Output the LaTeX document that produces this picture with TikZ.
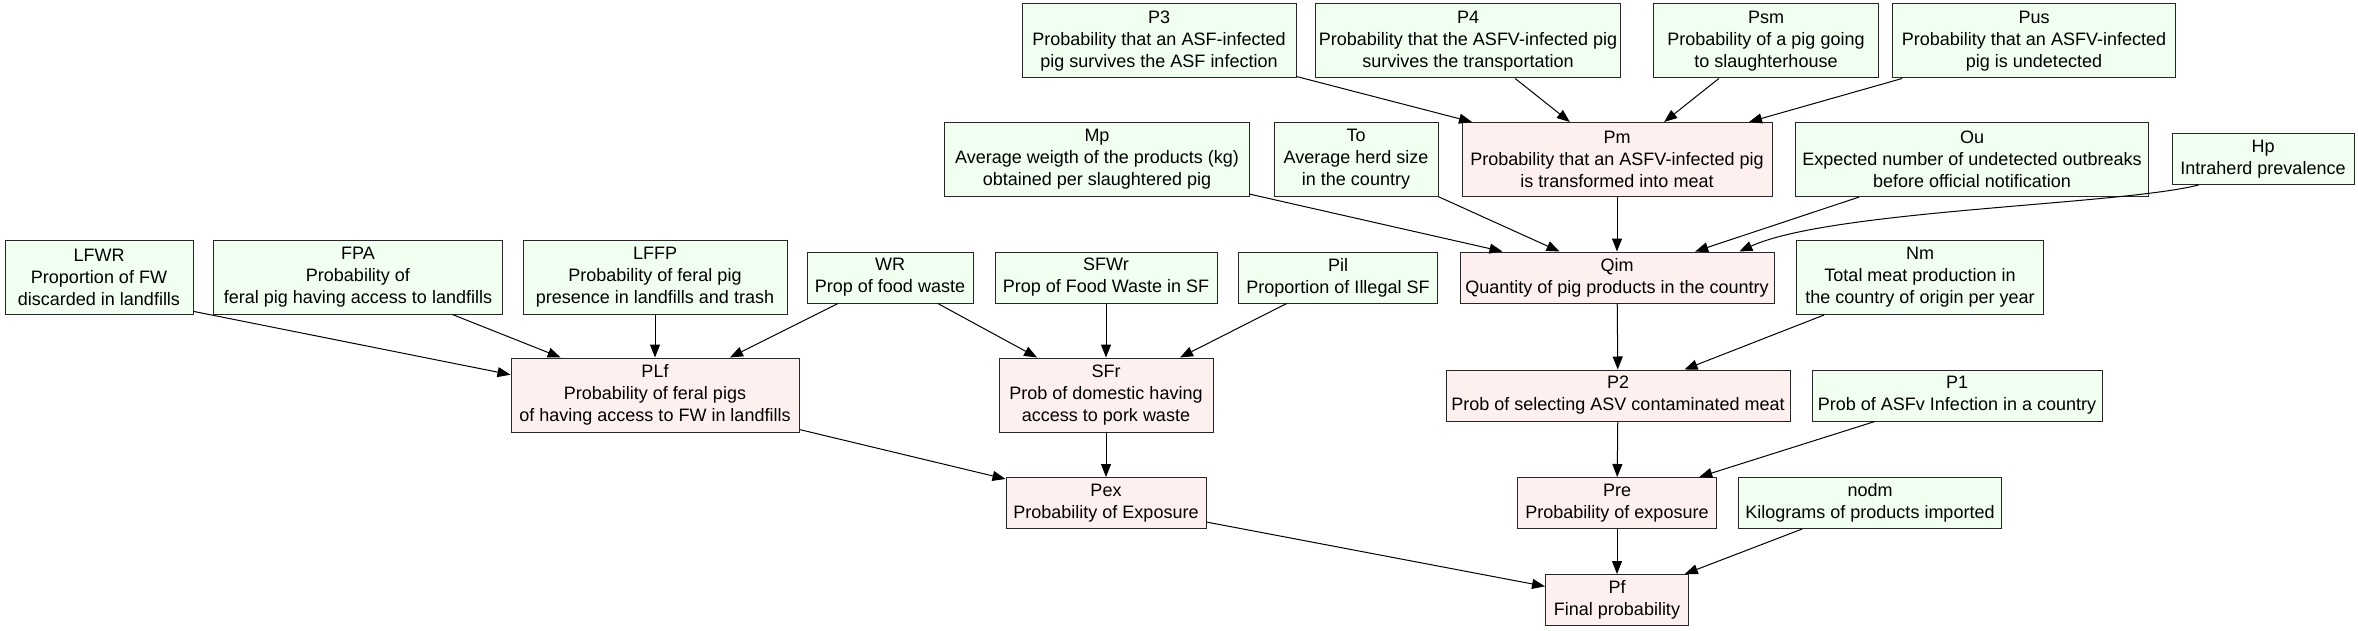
\documentclass[tikz,border=0pt]{standalone}
\usepackage{fontspec}
\setmainfont{Liberation Sans}
\usetikzlibrary{arrows.meta}
\definecolor{givenfill}{HTML}{F0FFF0}
\definecolor{derivfill}{HTML}{FFF0F0}
\begin{document}
\begin{tikzpicture}[x=0.5pt, y=-0.5pt,
  box/.style={draw=black!85, rectangle, align=center, inner xsep=1pt, inner ysep=1pt,
    line width=0.5pt, font=\fontsize{9}{11}\selectfont},
  given/.style={box, fill=givenfill},
  deriv/.style={box, fill=derivfill},
  twoline/.style={minimum height=25.5pt},
  threeline/.style={minimum height=37pt},
  link/.style={-{Triangle[length=6.5pt, width=5pt]}, line width=0.5pt}]
\useasboundingbox (0,0) rectangle (2358,631);
%
\node[given, threeline, minimum width=137pt] (P3) at (1159,41) {P3\\Probability that an ASF-infected\\pig survives the ASF infection};
\node[given, threeline, minimum width=152.5pt] (P4) at (1468,41) {P4\\Probability that the ASFV-infected pig\\survives the transportation};
\node[given, threeline, minimum width=112.5pt] (Psm) at (1766,41) {Psm\\Probability of a pig going\\to slaughterhouse};
\node[given, threeline, minimum width=141.5pt] (Pus) at (2034,41) {Pus\\Probability that an ASFV-infected\\pig is undetected}; % rang 1
%
\node[given, threeline, minimum width=152.5pt] (Mp) at (1097,159.5) {Mp\\Average weigth of the products (kg)\\obtained per slaughtered pig};
\node[given, threeline, minimum width=82pt] (To) at (1356,159.5) {To\\Average herd size\\in the country};
\node[deriv, threeline, minimum width=155pt] (Pm) at (1617,159.5) {Pm\\Probability that an ASFV-infected pig\\is transformed into meat};
\node[given, threeline, minimum width=176.5pt] (Ou) at (1972,159.5) {Ou\\Expected number of undetected outbreaks\\before official notification};
\node[given, twoline, minimum width=91pt] (Hp) at (2263,159) {Hp\\Intraherd prevalence}; % rang 2
%
\node[given, threeline, minimum width=94pt] (LFWR) at (99,277) {LFWR\\Proportion of FW\\discarded in landfills};
\node[given, threeline, minimum width=144.5pt] (FPA) at (358,277) {FPA\\Probability of\\feral pig having access to landfills};
\node[given, threeline, minimum width=132pt] (LFFP) at (655,277) {LFFP\\Probability of feral pig\\presence in landfills and trash};
\node[given, twoline, minimum width=83pt] (WR) at (890,277.5) {WR\\Prop of food waste};
\node[given, twoline, minimum width=111pt] (SFWr) at (1106,277.5) {SFWr\\Prop of Food Waste in SF};
\node[given, twoline, minimum width=99.5pt] (Pil) at (1338,277.5) {Pil\\Proportion of Illegal SF};
\node[deriv, twoline, minimum width=157pt] (Qim) at (1617,277.5) {Qim\\Quantity of pig products in the country};
\node[given, threeline, minimum width=123.5pt] (Nm) at (1920,277.5) {Nm\\Total meat production in\\the country of origin per year}; % rang 3
%
\node[deriv, threeline, minimum width=144pt] (PLf) at (655,395) {PLf\\Probability of feral pigs\\of having access to FW in landfills};
\node[deriv, threeline, minimum width=107pt] (SFr) at (1106,395) {SFr\\Prob of domestic having\\access to pork waste};
\node[deriv, twoline, minimum width=172pt] (P2) at (1618,395.5) {P2\\Prob of selecting ASV contaminated meat};
\node[given, twoline, minimum width=145pt] (P1) at (1957,395.5) {P1\\Prob of ASFv Infection in a country}; % rang 4
%
\node[deriv, twoline, minimum width=100pt] (Pex) at (1106,503) {Pex\\Probability of Exposure};
\node[deriv, twoline, minimum width=99.5pt] (Pre) at (1617,503) {Pre\\Probability of exposure};
\node[given, twoline, minimum width=131.5pt] (nodm) at (1870,503) {nodm\\Kilograms of products imported};
\node[deriv, twoline, minimum width=71.5pt] (Pf) at (1617,600) {Pf\\Final probability}; % rang 5
%
\foreach \a in {P3,P4,Psm,Pus} \draw[link] (\a) -- (Pm);
\foreach \a in {Mp,To,Pm,Ou} \draw[link] (\a) -- (Qim);
\draw[link] (Hp.202) .. controls (2120,205) and (1830,210) .. (Qim.12);
\draw[link] (LFWR.-20) -- (PLf.172);
\foreach \a in {FPA,LFFP,WR} \draw[link] (\a) -- (PLf);
\foreach \a in {WR,SFWr,Pil} \draw[link] (\a) -- (SFr);
\foreach \a in {Qim,Nm} \draw[link] (\a) -- (P2);
\foreach \a in {PLf,SFr} \draw[link] (\a) -- (Pex);
\foreach \a in {P2,P1} \draw[link] (\a) -- (Pre);
\foreach \a in {Pex,Pre,nodm} \draw[link] (\a) -- (Pf); % liens
\end{tikzpicture}
\end{document}
